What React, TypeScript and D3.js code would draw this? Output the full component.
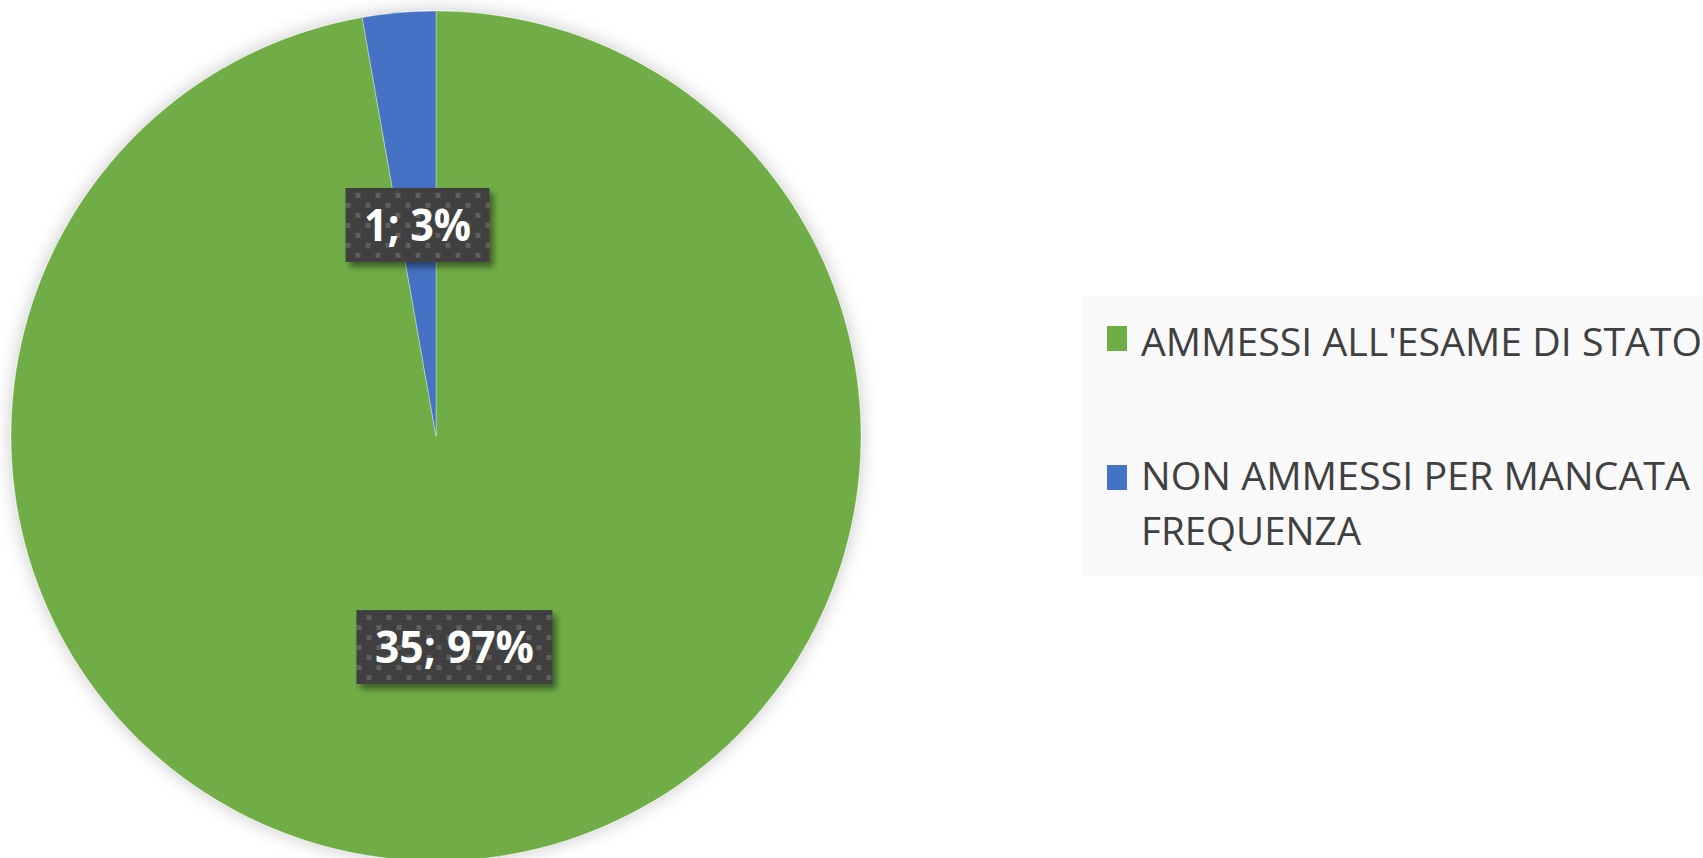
import React from "react";
import * as d3 from "d3";

const categories = ["AMMESSI ALL'ESAME DI STATO", "NON AMMESSI PER MANCATA FREQUENZA"];
const values = [35, 1];
const colors = ["#70AD47", "#4472C4"];
const legendLines = [["AMMESSI ALL'ESAME DI STATO"], ["NON AMMESSI PER MANCATA", "FREQUENZA"]];
const legendWidths = [[561], [549, 220]];

const W = 1703;
const H = 858;

export default function App() {
  const cx = 436;
  const cy = 436;
  const r = 425;
  const total = d3.sum(values);
  const pie = d3.pie<number>().sort(null).value((d) => d);
  const arcs = pie(values);
  const arc = d3.arc<d3.PieArcDatum<number>>().innerRadius(0).outerRadius(r);
  const labelArc = d3.arc<d3.PieArcDatum<number>>().innerRadius(0).outerRadius(r * 0.997);
  const labelTexts = values.map((v) => `${v}; ${Math.round((v / total) * 100)}%`);
  const labelTextWidths = [159, 107];
  const bh = 74;
  const boxes = arcs.map((a, i) => {
    const [lx, ly] = labelArc.centroid(a);
    const bw = labelTextWidths[i] + 37;
    return { lx, ly, bw, x: lx - bw / 2, y: ly - bh / 2 };
  });

  return (
    <svg width={W} height={H} style={{ position: "absolute", left: 0, top: 0, background: "#fff" }}>
      <defs>
        <filter id="pieShadow" x="-20%" y="-20%" width="140%" height="140%">
          <feDropShadow dx="0" dy="0" stdDeviation="9" floodColor="#000" floodOpacity="0.22" />
        </filter>
        <filter id="boxShadow" x="-20%" y="-30%" width="150%" height="170%">
          <feDropShadow dx="4" dy="5" stdDeviation="3" floodColor="#000" floodOpacity="0.45" />
        </filter>
        {boxes.map((b, i) => (
          <pattern key={i} id={"dots" + i} width="20" height="20" patternUnits="userSpaceOnUse" x={b.x} y={b.y}>
            <rect width="20" height="20" fill="#404040" />
            <rect x="10" y="5" width="5" height="5" fill="#5e5e5e" />
            <rect x="0" y="15" width="5" height="5" fill="#5e5e5e" />
          </pattern>
        ))}
      </defs>
      <g transform={`translate(${cx},${cy})`}>
        <g filter="url(#pieShadow)">
          {arcs.map((a, i) => (
            <path key={i} d={arc(a) || ""} fill={colors[i]} stroke="#ffffff" strokeOpacity={0.35} strokeWidth={1} />
          ))}
        </g>
        {boxes.map((b, i) => (
          <g key={"l" + i}>
            <rect x={b.x} y={b.y} width={b.bw} height={bh} fill={`url(#dots${i})`} filter="url(#boxShadow)" />
            <text
              x={b.lx}
              y={b.ly + 16}
              textAnchor="middle"
              fontFamily="'Open Sans', sans-serif"
              fontWeight={700}
              fontSize={45}
              fill="#ffffff"
              textLength={labelTextWidths[i]}
              lengthAdjust="spacingAndGlyphs"
            >
              {labelTexts[i]}
            </text>
          </g>
        ))}
      </g>
      <g>
        <rect x={1082} y={296} width={W - 1082} height={279} fill="#f9f9f9" />
        {categories.map((c, i) => {
          const sy = i === 0 ? 326 : 465;
          const baselines = i === 0 ? [356] : [490, 545];
          return (
            <g key={c}>
              <rect x={1107} y={sy} width={20} height={25} fill={colors[i]} />
              {legendLines[i].map((ln, j) => (
                <text
                  key={j}
                  x={1141}
                  y={baselines[j]}
                  fontFamily="'Open Sans', sans-serif"
                  fontSize={39}
                  fill="#404040"
                  textLength={legendWidths[i][j]}
                  lengthAdjust="spacingAndGlyphs"
                >
                  {ln}
                </text>
              ))}
            </g>
          );
        })}
      </g>
    </svg>
  );
}
